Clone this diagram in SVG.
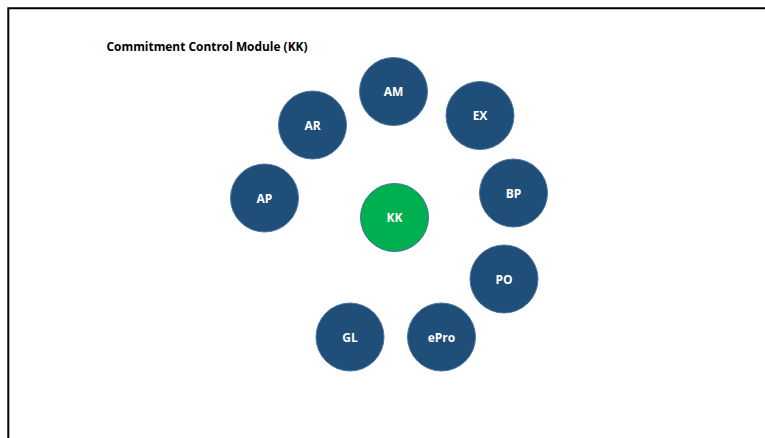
<svg xmlns="http://www.w3.org/2000/svg" width="765" height="438" viewBox="0 0 765 438">
<style>
.n{fill:#1F4E79;stroke:#4A76A3;stroke-width:1}
.g{fill:#00B050;stroke:#3F6FA0;stroke-width:1}
.t{font-family:"Open Sans","Liberation Sans",sans-serif;font-weight:bold;font-size:12px;fill:#FFFFFF;text-anchor:middle}
.title{font-family:"Open Sans","Liberation Sans",sans-serif;font-weight:bold;font-size:13px;fill:#000000}
</style>
<rect width="765" height="438" fill="#FFFFFF"/>
<path d="M8.3,438 V8.3 H765" fill="none" stroke="#000000" stroke-width="2"/>
<text class="title" x="106.5" y="51" textLength="201" lengthAdjust="spacingAndGlyphs">Commitment Control Module (KK)</text>
<g id="connectors"></g>
<g id="KK"><circle class="g" cx="394.5" cy="217.5" r="34"/><text class="t" x="394.5" y="221.5">KK</text></g>
<g id="AM"><circle class="n" cx="393.5" cy="91.5" r="34"/><text class="t" x="393.5" y="96">AM</text></g>
<g id="AR"><circle class="n" cx="312.5" cy="125" r="34"/><text class="t" x="312.5" y="129.5">AR</text></g>
<g id="EX"><circle class="n" cx="480" cy="115.5" r="34"/><text class="t" x="480" y="120">EX</text></g>
<g id="AP"><circle class="n" cx="264.5" cy="198" r="34"/><text class="t" x="264.5" y="202.5">AP</text></g>
<g id="BP"><circle class="n" cx="513.5" cy="193" r="34"/><text class="t" x="513.5" y="197.5">BP</text></g>
<g id="PO"><circle class="n" cx="504" cy="279" r="34"/><text class="t" x="504" y="283.5">PO</text></g>
<g id="ePro"><circle class="n" cx="441.5" cy="337" r="34"/><text class="t" x="441.5" y="341.5">ePro</text></g>
<g id="GL"><circle class="n" cx="350" cy="337" r="34"/><text class="t" x="350" y="341.5">GL</text></g>
</svg>
